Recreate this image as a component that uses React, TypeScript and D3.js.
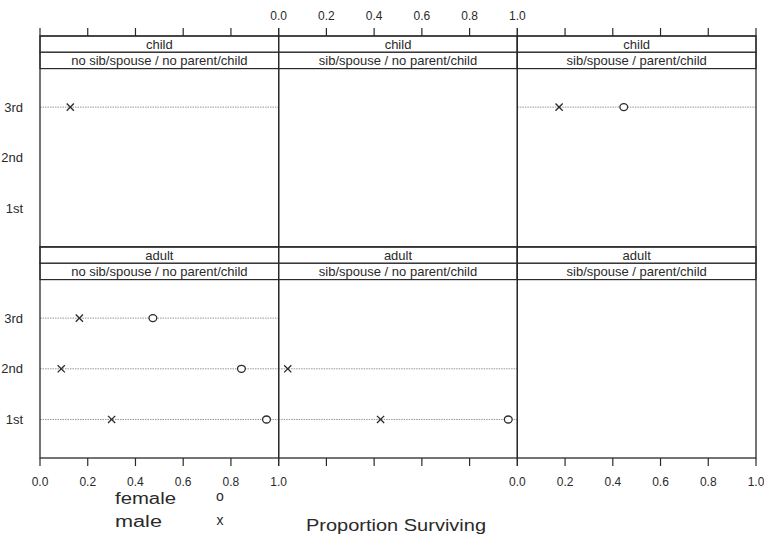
import React from "react";
import * as d3 from "d3";

// ---- data ----
const classes = ["3rd", "2nd", "1st"];
const ages = ["child", "adult"];
const families = [
  "no sib/spouse / no parent/child",
  "sib/spouse / no parent/child",
  "sib/spouse / parent/child",
];
const xTicks = [0, 0.2, 0.4, 0.6, 0.8, 1.0];
const legendLabels = ["female", "male"];
const legendSymbols = ["o", "x"];

// [age, family index, class, proportion surviving]
const maleSurvival: [string, number, string, number][] = [
  ["child", 0, "3rd", 0.127],
  ["child", 2, "3rd", 0.175],
  ["adult", 0, "3rd", 0.165],
  ["adult", 0, "2nd", 0.089],
  ["adult", 0, "1st", 0.3],
  ["adult", 1, "2nd", 0.038],
  ["adult", 1, "1st", 0.427],
];
const femaleSurvival: [string, number, string, number][] = [
  ["child", 2, "3rd", 0.446],
  ["adult", 0, "3rd", 0.473],
  ["adult", 0, "2nd", 0.844],
  ["adult", 0, "1st", 0.949],
  ["adult", 1, "1st", 0.962],
];

const W = 764;
const H = 539;
const left = 40;
const right = 756;
const top = 36;
const bottom = 458;
const stripH = 16.3;
const colW = (right - left) / families.length;
const rowH = (bottom - top) / ages.length;
const ink = "#2a2a2a";
const font = "'Liberation Sans', Arial, Helvetica, sans-serif";

function xScale(col: number) {
  return d3.scaleLinear().domain([0, 1]).range([left + col * colW, left + (col + 1) * colW]);
}
function yScale(row: number) {
  const pTop = top + row * rowH + 2 * stripH;
  const pBot = top + (row + 1) * rowH;
  return d3.scalePoint<string>().domain(classes).range([pTop, pBot]).padding(0.76);
}

function XMark({ x, y }: { x: number; y: number }) {
  return (
    <g stroke={ink} strokeWidth={1.3}>
      <line x1={x - 3.6} y1={y - 3.6} x2={x + 3.6} y2={y + 3.6} />
      <line x1={x - 3.6} y1={y + 3.6} x2={x + 3.6} y2={y - 3.6} />
    </g>
  );
}
function OMark({ x, y }: { x: number; y: number }) {
  return <ellipse cx={x} cy={y} rx={3.9} ry={3.5} fill="white" stroke={ink} strokeWidth={1.3} />;
}

export default function App() {
  const panels: React.ReactNode[] = [];
  ages.forEach((age, row) => {
    const y = yScale(row);
    const rowTop = top + row * rowH;
    families.forEach((fam, col) => {
      const x = xScale(col);
      const x0 = left + col * colW;
      const males = maleSurvival.filter((d) => d[0] === age && d[1] === col);
      const females = femaleSurvival.filter((d) => d[0] === age && d[1] === col);
      const usedClasses = classes.filter(
        (c) => males.some((d) => d[2] === c) || females.some((d) => d[2] === c)
      );
      panels.push(
        <g key={`${row}-${col}`}>
          {usedClasses.map((c) => (
            <line
              key={c}
              x1={x0}
              x2={x0 + colW}
              y1={y(c)!}
              y2={y(c)!}
              stroke="#8a8a8a"
              strokeWidth={0.9}
              strokeDasharray="1.5,1"
            />
          ))}
          {/* strips */}
          <rect x={x0} y={rowTop} width={colW} height={stripH} fill="white" stroke={ink} strokeWidth={1.2} />
          <rect x={x0} y={rowTop + stripH} width={colW} height={stripH} fill="white" stroke={ink} strokeWidth={1.2} />
          <text x={x0 + colW / 2} y={rowTop + stripH / 2 + 4.4} textAnchor="middle" fontSize={13} fill={ink}>
            {age}
          </text>
          <text x={x0 + colW / 2} y={rowTop + stripH * 1.5 + 4.4} textAnchor="middle" fontSize={13} fill={ink}>
            {fam}
          </text>
          {/* panel border */}
          <rect x={x0} y={rowTop} width={colW} height={rowH} fill="none" stroke={ink} strokeWidth={1.3} />
          {females.map((d, i) => (
            <OMark key={"f" + i} x={x(d[3])} y={y(d[2])!} />
          ))}
          {males.map((d, i) => (
            <XMark key={"m" + i} x={x(d[3])} y={y(d[2])!} />
          ))}
        </g>
      );
    });
  });

  const axes: React.ReactNode[] = [];
  families.forEach((_, col) => {
    const x = xScale(col);
    xTicks.forEach((t, i) => {
      axes.push(
        <line key={`tt${col}-${i}`} x1={x(t)} x2={x(t)} y1={top - 8} y2={top} stroke={ink} strokeWidth={1.2} />,
        <line key={`bt${col}-${i}`} x1={x(t)} x2={x(t)} y1={bottom} y2={bottom + 8} stroke={ink} strokeWidth={1.2} />
      );
      if (col === 1) {
        axes.push(
          <text key={`tl${i}`} x={x(t)} y={top - 16} textAnchor="middle" fontSize={12} fill={ink}>
            {t.toFixed(1)}
          </text>
        );
      } else {
        axes.push(
          <text key={`bl${col}-${i}`} x={x(t)} y={bottom + 28} textAnchor="middle" fontSize={12} fill={ink}>
            {t.toFixed(1)}
          </text>
        );
      }
    });
  });
  ages.forEach((_, row) => {
    const y = yScale(row);
    classes.forEach((c) => {
      axes.push(
        <text key={`yl${row}-${c}`} x={23} y={y(c)! + 4.6} textAnchor="end" fontSize={13} fill={ink}>
          {c}
        </text>
      );
    });
  });

  return (
    <svg
      width={W}
      height={H}
      style={{ position: "absolute", left: 0, top: 0, background: "white" }}
      fontFamily={font}
    >
      <rect width={W} height={H} fill="white" />
      {panels}
      {axes}
      {legendLabels.map((lab, i) => (
        <g key={lab}>
          <text x={115} y={504 + i * 23} fontSize={16} textLength={i === 0 ? 61 : 47} lengthAdjust="spacingAndGlyphs" fill={ink}>
            {lab}
          </text>
          <text x={220} y={501 + i * 24} textAnchor="middle" fontSize={14} fill={ink}>
            {legendSymbols[i]}
          </text>
        </g>
      ))}
      <text x={306} y={531} fontSize={17} textLength={180} lengthAdjust="spacingAndGlyphs" fill={ink}>
        Proportion Surviving
      </text>
    </svg>
  );
}
